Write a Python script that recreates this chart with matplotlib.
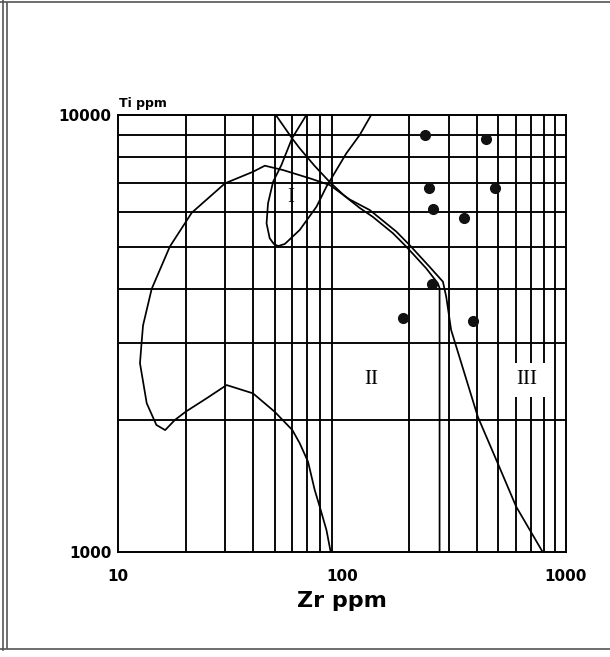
import matplotlib
matplotlib.use("Agg")
import matplotlib.pyplot as plt
from matplotlib.lines import Line2D

# ---------------- data ----------------
# sample points (Zr ppm, Ti ppm)
dots_zr = [235, 440, 245, 485, 255, 350, 252, 188, 387]
dots_ti = [9000, 8800, 6800, 6800, 6100, 5800, 4100, 3430, 3380]

# large boundary curve (field II / III outline)
big_zr = [89, 85.2, 79.5, 75.5, 70.5, 64.7, 60, 50, 40, 30.5, 24.8, 20, 17.9, 16.2,
          14.8, 13.4, 12.5, 12.7, 12.9, 14.1, 17.0, 21.3, 30, 40, 45.2, 54.5, 71.8,
          88.1, 108, 133, 175, 200.5, 246, 282.6, 292.4, 307.5, 404.6, 496.6, 600.6, 789]
big_ti = [1000, 1123, 1270, 1387, 1609, 1774, 1901, 2094, 2307, 2410, 2247, 2094, 2005, 1901,
          1953, 2189, 2703, 3000, 3300, 4000, 5000, 5976, 6977, 7414, 7656, 7482, 7163,
          6916, 6412, 6062, 5409, 5040, 4497, 4155, 3837, 3221, 2040, 1597, 1270, 1000]

# steep boundary line ending in vertical drop
steep_zr = [50.6, 59.8, 64.7, 75.5, 88.1, 102.8, 120, 137.5, 169, 194, 238, 268, 273, 273]
steep_ti = [10000, 8845, 8390, 7644, 7026, 6525, 6128, 5844, 5362, 4995, 4457, 4121, 4018, 1000]

# field I loop
loop_zr = [69.3, 59.8, 53.6, 49.2, 46.7, 46.0, 47.5, 49.6, 51.8, 55.5, 64.7, 76.9, 85.2,
           104.6, 120, 135]
loop_ti = [10000, 8845, 7684, 7034, 6280, 5650, 5224, 5068, 5013, 5068, 5456, 6167, 6855,
           8173, 9000, 10000]

# field labels
field_labels = ["I", "II", "III"]
field_zr = [59, 135, 672]
field_ti = [6482, 2484, 2477]

x_ticks = [10, 100, 1000]
x_ticklabels = ["10", "100", "1000"]
y_ticks = [1000, 10000]
y_ticklabels = ["1000", "10000"]
x_grid = [20, 30, 40, 50, 60, 70, 80, 90, 200, 300, 400, 500, 600, 700, 800, 900]
y_grid = [2000, 3000, 4000, 5000, 6000, 7000, 8000, 9000]

# ---------------- figure ----------------
W, H = 610, 657
fig = plt.figure(figsize=(W / 100, H / 100), dpi=100)
fig.patch.set_facecolor("white")

ax = fig.add_axes([118.3 / W, 1 - 552 / H, (565.7 - 118.3) / W, (552 - 115) / H])
ax.set_xscale("log")
ax.set_yscale("log")
ax.set_xlim(10, 1000)
ax.set_ylim(1000, 10000)

grid_kw = dict(color="black", lw=1.35, zorder=1)
for gx in x_grid:
    ax.axvline(gx, **grid_kw)
for gy in y_grid:
    ax.axhline(gy, **grid_kw)

curve_kw = dict(color="black", lw=1.25, zorder=3, solid_joinstyle="round")
ax.plot(big_zr, big_ti, **curve_kw)
ax.plot(steep_zr, steep_ti, **curve_kw)
ax.plot(loop_zr, loop_ti, **curve_kw)

ax.plot(dots_zr, dots_ti, "o", color="#111111", markersize=7, zorder=5)

for lab, zx, ty in zip(field_labels, field_zr, field_ti):
    kw = {}
    if lab == "III":
        kw["bbox"] = dict(boxstyle="square,pad=0.35", fc="white", ec="none")
    ax.text(zx, ty, lab, family="Liberation Serif", fontsize=15, ha="center",
            va="center", zorder=4, **kw)

ax.xaxis.set_minor_locator(matplotlib.ticker.NullLocator())
ax.yaxis.set_minor_locator(matplotlib.ticker.NullLocator())
ax.set_xticks(x_ticks)
ax.set_xticklabels(x_ticklabels)
ax.set_yticks(y_ticks)
ax.set_yticklabels(y_ticklabels)
ax.tick_params(axis="both", length=0, labelsize=11)
ax.tick_params(axis="x", pad=12)
ax.tick_params(axis="y", pad=5)
for t in ax.get_xticklabels() + ax.get_yticklabels():
    t.set_fontweight("bold")
for s in ax.spines.values():
    s.set_linewidth(1.4)
    s.set_color("black")

ax.set_xlabel("Zr ppm", fontsize=16, fontweight="bold", labelpad=5)
fig.text(119 / W, 1 - 104 / H, "Ti ppm", fontsize=9, fontweight="bold",
         ha="left", va="center")

# page border
bkw = dict(color="#555555", lw=1.2, transform=fig.transFigure)
fig.add_artist(Line2D([0, 1], [1 - 1.5 / H, 1 - 1.5 / H], **bkw))
fig.add_artist(Line2D([3 / W, 3 / W], [1 - 650 / H, 1], **bkw))
fig.add_artist(Line2D([7 / W, 7 / W], [1 - 648 / H, 1 - 3 / H], **bkw))
fig.add_artist(Line2D([0, 1], [1 - 649 / H, 1 - 649 / H], **bkw))

fig.savefig("out.png", dpi=100, facecolor="white")
